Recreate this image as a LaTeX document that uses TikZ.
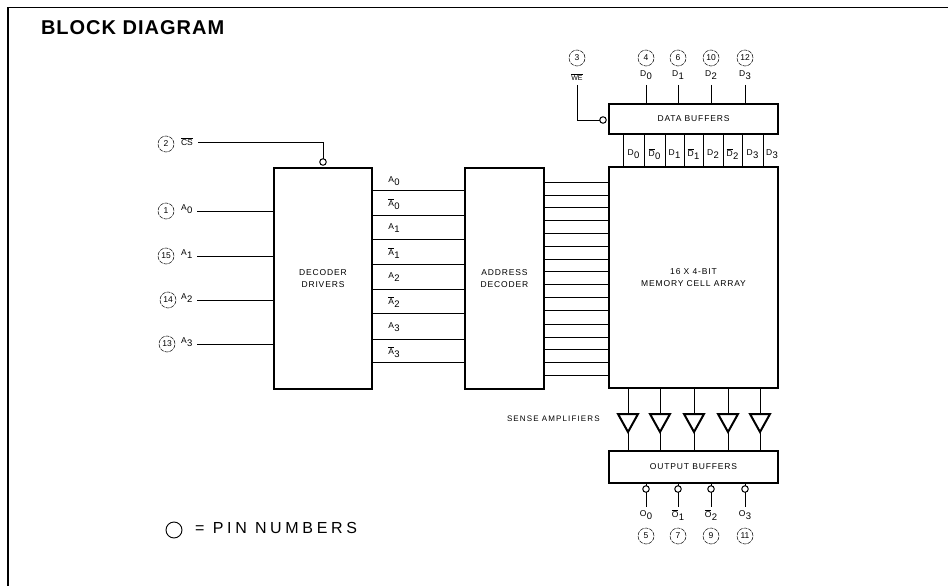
\documentclass[tikz,border=0pt]{standalone}
\usepackage{fontspec}
\setmainfont{Liberation Sans}
\newcommand{\sgn}[2]{#1\hspace{.5pt}\raisebox{-.75ex}{\fontsize{9.5}{10}\selectfont #2}}
\newcommand{\nsgn}[2]{$\overline{\mbox{#1}}$\hspace{.5pt}\raisebox{-.75ex}{\fontsize{9.5}{10}\selectfont #2}}
\newcommand{\blockfont}{\fontsize{8.5}{11.5}\selectfont\addfontfeature{LetterSpace=10}}
\begin{document}
\begin{tikzpicture}[x=1pt,y=-1pt,
  every node/.style={font=\blockfont,inner sep=0pt,outer sep=0pt,align=center},
  blockbox/.style={draw,line width=2pt,anchor=north west,minimum width=#1},
  wire/.style={line width=.9pt},
  pinnum/.style={draw,circle,line width=.5pt,dash pattern=on 4pt off 1pt,minimum size=16pt,font=\fontsize{8.5}{9}\selectfont},
  bubble/.style={draw,circle,line width=1pt,minimum size=6.5pt,fill=white},
  sig/.style={font=\fontsize{8.5}{10}\selectfont}]
\useasboundingbox (0,0) rectangle (948,586);
\draw[line width=1.3pt] (948,7.5) -- (8,7.5) -- (8,586);
\node[font=\bfseries\fontsize{20}{22}\selectfont\addfontfeature{LetterSpace=5},anchor=west] (title) at (41,28) {BLOCK DIAGRAM};

% blocks
\node[blockbox=98pt,minimum height=221pt] (dd) at (274,168) {DECODER\\DRIVERS};
\node[blockbox=79pt,minimum height=221pt] (ad) at (465,168) {ADDRESS\\DECODER};
\node[blockbox=169pt,minimum height=221pt] (mem) at (609,167) {16 X 4-BIT\\MEMORY CELL ARRAY};
\node[blockbox=169pt,minimum height=30pt] (db) at (609,104) {DATA BUFFERS};
\node[blockbox=169pt,minimum height=32pt] (ob) at (609,451) {OUTPUT BUFFERS};

% address inputs
\foreach \nm/\pin/\sub/\y/\cx in {a/1/0/211/166,b/15/1/256/166,c/14/2/300/168,d/13/3/344/167}{
  \node[pinnum] (p\nm) at (\cx,\y) {\pin};
  \node[sig,anchor=west] (l\nm) at (181,\y-2) {\sgn{A}{\sub}};
  \coordinate (s\nm) at (197,\y);
  \draw[wire] (s\nm) -- (s\nm -| dd.west);
}

% chip select
\node[pinnum] (p2) at (166,144) {2};
\node[sig,anchor=west] (lcs) at (181,142) {$\overline{\mbox{CS}}$};
\coordinate (scs) at (198,142);
\node[bubble] (bcs) at (323,162) {};
\draw[wire] (scs) -| (bcs.north);

% decoder to address decoder
\foreach \y in {190,215,239,264,289,313,339,362}{
  \coordinate (m) at (dd.east |- 0,\y);
  \draw[wire] (m) -- (m -| ad.west);
}
\node[sig] (t0) at (394,181) {\sgn{A}{0}};
\node[sig] (t1) at (394,204) {\nsgn{A}{0}};
\node[sig] (t2) at (394,228) {\sgn{A}{1}};
\node[sig] (t3) at (394,253) {\nsgn{A}{1}};
\node[sig] (t4) at (394,277) {\sgn{A}{2}};
\node[sig] (t5) at (394,302) {\nsgn{A}{2}};
\node[sig] (t6) at (394,327) {\sgn{A}{3}};
\node[sig] (t7) at (394,352) {\nsgn{A}{3}};

% address decoder to array
\foreach \y in {182,195,207,220,233,246,259,271,284,297,310,324,337,349,362,375}{
  \coordinate (m) at (ad.east |- 0,\y);
  \draw[wire] (m) -- (m -| mem.west);
}

% write enable
\node[pinnum] (p3) at (577,58) {3};
\node[sig,font=\fontsize{7}{8}\selectfont] (lwe) at (577,77) {$\overline{\mbox{WE}}$};
\coordinate (swe) at (577,85);
\node[bubble] (bwe) at (603,120) {};
\draw[wire] (swe) |- (bwe.west);

% data pins
\foreach \nm/\pin/\sub/\x in {a/4/0/646,b/6/1/678,c/10/2/711,d/12/3/745}{
  \node[pinnum] (q\nm) at (\x,58) {\pin};
  \node[sig] (u\nm) at (\x,75) {\sgn{D}{\sub}};
  \coordinate (v\nm) at (\x,85);
  \draw[wire,line width=1pt] (v\nm) -- (v\nm |- db.north);
}

% columns between data buffers and array
\foreach \x in {623,644,665,684,703,723,742,763}{
  \coordinate (m) at (\x,134);
  \draw[wire] (m) -- (m |- mem.north);
}
\node[sig] (c0) at (633.5,154) {\sgn{D}{0}};
\node[sig] (c1) at (654.5,154) {\nsgn{D}{0}};
\node[sig] (c2) at (674.5,154) {\sgn{D}{1}};
\node[sig] (c3) at (693.5,154) {\nsgn{D}{1}};
\node[sig] (c4) at (713,154) {\sgn{D}{2}};
\node[sig] (c5) at (732.5,154) {\nsgn{D}{2}};
\node[sig] (c6) at (752.5,154) {\sgn{D}{3}};
\node[sig] (c7) at (772,154) {\sgn{D}{3}};

% sense amplifiers
\node[anchor=west,font=\fontsize{8}{9}\selectfont\addfontfeature{LetterSpace=14}] (sa) at (507,419) {SENSE AMPLIFIERS};
\foreach \x in {628,660,694,728,760}{
  \coordinate (ti) at (\x,414);
  \coordinate (to) at (\x,432);
  \draw[line width=2pt,line join=miter] (\x-10,414) -- (\x+10,414) -- (to) -- cycle;
  \draw[wire,line width=1pt] (ti |- mem.south) -- (ti);
  \draw[wire,line width=1pt] (to) -- (to |- ob.north);
}

% outputs
\foreach \nm/\pin/\x/\t in {a/5/646/{\sgn{O}{0}},b/7/678/{\nsgn{O}{1}},c/9/711/{\nsgn{O}{2}},d/11/745/{\sgn{O}{3}}}{
  \node[bubble] (bo\nm) at (\x,489) {};
  \coordinate (e\nm) at (\x,507);
  \draw[wire] (bo\nm) -- (e\nm);
  \draw[wire] (bo\nm) -- (bo\nm |- ob.south);
  \node[sig] (lo\nm) at (\x,515) {\t};
  \node[pinnum] (po\nm) at (\x,536) {\pin};
}

% legend
\node[draw,circle,line width=.9pt,minimum size=16pt] (leg) at (174,530) {};
\node[anchor=west,font=\fontsize{16}{18}\selectfont] (legt) at (195,528) {=\hspace{8.5pt}\addfontfeature{LetterSpace=23}PIN NUMBERS};
\end{tikzpicture}
\end{document}
